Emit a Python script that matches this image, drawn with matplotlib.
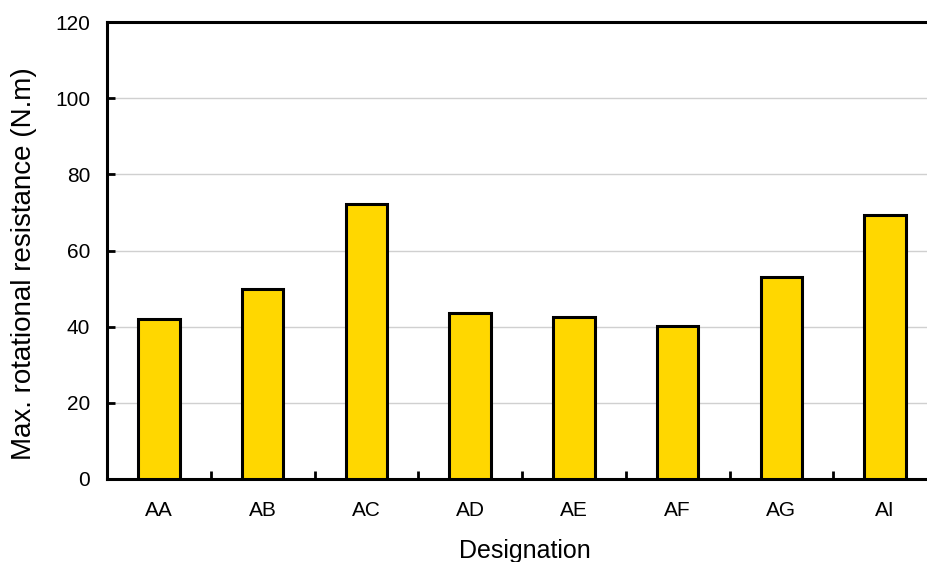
import matplotlib
matplotlib.use("Agg")
import matplotlib.pyplot as plt
import numpy as np

categories = ["AA", "AB", "AC", "AD", "AE", "AF", "AG", "AI"]
values = [42.0, 50.0, 72.1, 43.6, 42.6, 40.2, 53.0, 69.3]
yticks = [0, 20, 40, 60, 80, 100, 120]

plt.rcParams['font.family'] = ['Liberation Sans', 'DejaVu Sans']

W, H = 927, 562
fig = plt.figure(figsize=(W / 100, H / 100), dpi=100)
# axes extends slightly past right edge like the reference
ax = fig.add_axes([107 / W, 1 - 479 / H, (937 - 107) / W, (479 - 22) / H])

x = np.arange(len(categories))
ax.bar(x, values, width=0.4, color="#FFD700", edgecolor="black", linewidth=2.2, zorder=3)

ax.set_xlim(-0.5, len(categories) - 0.5)
ax.set_ylim(0, 120)
ax.set_yticks(yticks)
ax.set_yticklabels([str(v) for v in yticks], fontsize=15)
ax.yaxis.grid(True, color="#d0d0d0", linewidth=1, zorder=0)
ax.set_axisbelow(True)

# category labels at centres, minor ticks at boundaries
ax.set_xticks(x)
ax.set_xticklabels(categories, fontsize=15)
ax.tick_params(axis='x', which='major', length=0, pad=16)
ax.set_xticks(np.arange(0.5, len(categories) - 0.5, 1.0), minor=True)
ax.tick_params(axis='x', which='minor', direction='in', length=6, width=2, color='black')
ax.tick_params(axis='y', direction='in', length=6, width=2, pad=12)

for side in ['left', 'top', 'bottom']:
    ax.spines[side].set_linewidth(2.2)
ax.spines['right'].set_visible(False)

fig.text(525 / W, 1 - 558 / H, "Designation", fontsize=18, ha='center', va='baseline')
fig.text(24 / W, 1 - 263.5 / H, "Max. rotational resistance (N.m)", fontsize=20,
         rotation=90, ha='center', va='center')

fig.savefig("out.png", dpi=100)
